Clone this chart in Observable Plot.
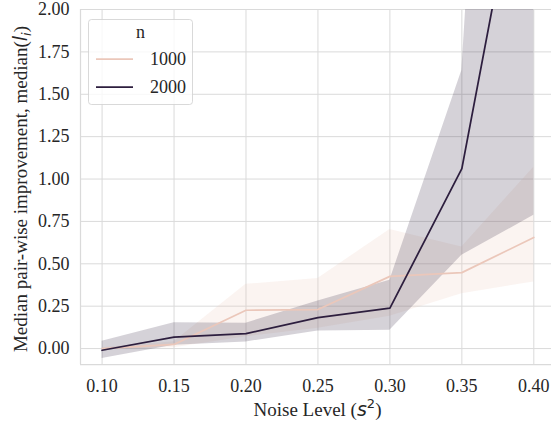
<!DOCTYPE html>
<html>
<head>
<meta charset="utf-8">
<script src="https://cdn.jsdelivr.net/npm/d3@7"></script>
<script src="https://cdn.jsdelivr.net/npm/@observablehq/plot@0.6"></script>
<style>
  html, body { margin: 0; padding: 0; background: #fff; }
  #chart { width: 551px; height: 421px; }
</style>
</head>
<body>
<div id="chart"></div>
<script>
// ---- data ----
const noise = [0.10, 0.15, 0.20, 0.25, 0.30, 0.35, 0.40];
const groups = ["1000", "2000"];
const median1000 = [0.000, 0.024, 0.226, 0.230, 0.426, 0.448, 0.655];
const low1000    = [-0.005, 0.005, 0.070, 0.120, 0.190, 0.324, 0.393];
const high1000   = [0.005, 0.040, 0.379, 0.413, 0.703, 0.599, 1.070];
const median2000 = [-0.010, 0.068, 0.088, 0.183, 0.238, 1.061, 3.300];
const low2000    = [-0.059, 0.020, 0.039, 0.104, 0.108, 0.550, 0.786];
const high2000   = [0.043, 0.153, 0.150, 0.281, 0.403, 1.640, 8.500];
const yTicks = [0.00, 0.25, 0.50, 0.75, 1.00, 1.25, 1.50, 1.75, 2.00];
const colors = ["#ebc7ba", "#2d1e3e"];
const xDomain = [0.085, 0.4123];
const yDomain = [-0.094, 2.0];

const rows = [];
noise.forEach((x, i) => {
  rows.push({x, n: "1000", med: median1000[i], lo: low1000[i], hi: high1000[i]});
  rows.push({x, n: "2000", med: median2000[i], lo: low2000[i], hi: high2000[i]});
});

const grid = "#dadada";
const font = "Liberation Serif";
const fs = 18;
const fsLabel = 19;
const ink = "#262626";

const plot = Plot.plot({
  width: 551,
  height: 421,
  marginLeft: 80,
  marginRight: 0,
  marginTop: 9,
  marginBottom: 57,
  style: {fontFamily: font, fontSize: fs + "px", color: ink, background: "#fff"},
  x: {domain: xDomain, label: null},
  y: {domain: yDomain, label: null},
  color: {domain: groups, range: colors},
  marks: [
    Plot.gridX(noise, {stroke: grid, strokeOpacity: 1, strokeWidth: 1}),
    Plot.gridY(yTicks, {stroke: grid, strokeOpacity: 1, strokeWidth: 1}),
    Plot.ruleX([xDomain[0]], {stroke: grid, strokeWidth: 1.25}),
    Plot.ruleY([yDomain[0]], {stroke: grid, strokeWidth: 1.25}),
    Plot.areaY(rows, {x: "x", y1: "lo", y2: "hi", z: "n", fill: "n", fillOpacity: 0.2, clip: true}),
    Plot.lineY(rows, {x: "x", y: "med", z: "n", stroke: "n", strokeWidth: 1.75, clip: true}),
    Plot.axisX(noise, {tickSize: 0, tickPadding: 15, tickFormat: d3.format(".2f"), label: null,
      fill: ink, fontFamily: font, fontSize: fs, fontVariant: "normal"}),
    Plot.axisY(yTicks, {tickSize: 0, tickPadding: 11, tickFormat: d3.format(".2f"), label: null,
      fill: ink, fontFamily: font, fontSize: fs, fontVariant: "normal"})
  ]
});

document.getElementById("chart").appendChild(plot);

const svg = d3.select(plot);

// axis labels with math parts
const xl = svg.append("text")
  .attr("x", 317.5).attr("y", 416)
  .attr("text-anchor", "middle").attr("fill", ink)
  .attr("font-family", font).attr("font-size", fsLabel);
xl.append("tspan").text("Noise Level (");
xl.append("tspan").text("s").attr("font-family", "DejaVu Sans").attr("font-style", "italic");
xl.append("tspan").text("2").attr("dy", -8).attr("font-family", "DejaVu Sans").attr("font-size", 13);
xl.append("tspan").text(")").attr("dy", 8);

const yl = svg.append("text")
  .attr("transform", "translate(26.5,189) rotate(-90)")
  .attr("text-anchor", "middle").attr("fill", ink)
  .attr("font-family", font).attr("font-size", fsLabel);
yl.append("tspan").text("Median pair-wise improvement, median(");
yl.append("tspan").text("l").attr("font-family", "DejaVu Sans").attr("font-style", "italic");
yl.append("tspan").text("i").attr("dy", 4).attr("font-family", "DejaVu Sans").attr("font-style", "italic").attr("font-size", 13);
yl.append("tspan").text(")").attr("dy", -4);

// legend
const lg = svg.append("g");
lg.append("rect").attr("x", 88.5).attr("y", 19.5).attr("width", 104).attr("height", 85)
  .attr("rx", 3).attr("fill", "#fff").attr("fill-opacity", 0.8)
  .attr("stroke", "#d0d0d0").attr("stroke-opacity", 0.8);
lg.append("text").attr("x", 140.5).attr("y", 38).attr("text-anchor", "middle")
  .attr("fill", ink).attr("font-family", font).attr("font-size", fs).text("n");
groups.forEach((g, i) => {
  const y = 59 + i * 28;
  lg.append("line").attr("x1", 96).attr("x2", 133).attr("y1", y).attr("y2", y)
    .attr("stroke", colors[i]).attr("stroke-width", 1.75);
  lg.append("text").attr("x", 150).attr("y", y + 6).attr("text-anchor", "start")
    .attr("fill", ink).attr("font-family", font).attr("font-size", fs).text(g);
});
</script>
</body>
</html>
